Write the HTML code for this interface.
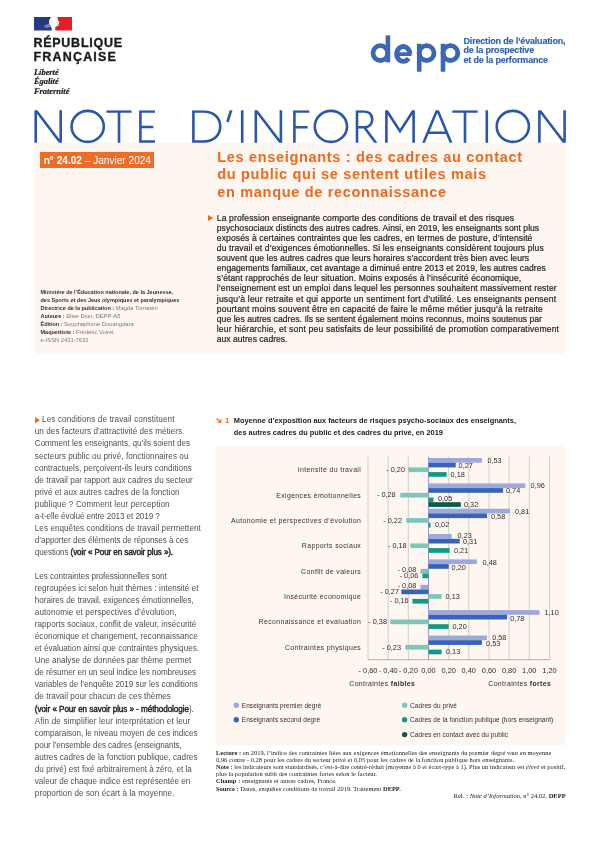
<!DOCTYPE html>
<html lang="fr">
<head>
<meta charset="utf-8">
<title>Note d'Information n° 24.02</title>
<style>
*{margin:0;padding:0;box-sizing:border-box}
html,body{width:600px;height:848px;background:#fff;overflow:hidden}
body{position:relative;font-family:"Liberation Sans",sans-serif;color:#222}
#page{position:absolute;left:0;top:0;width:600px;height:848px;will-change:transform}
.abs{position:absolute;white-space:nowrap}
/* Marianne block */
.flag{left:34px;top:17.1px;width:38px;height:13.6px}
.rf{left:33.4px;font-weight:bold;font-size:12.5px;line-height:13px;color:#1a1a1a;-webkit-text-stroke:.35px #1a1a1a}
.dev{left:34px;top:67.8px;font-family:"Liberation Serif",serif;font-style:italic;font-weight:bold;font-size:8.4px;line-height:9.4px;color:#1a1a1a;-webkit-text-stroke:.2px #1a1a1a}
/* depp */
.depp{left:370.5px;top:29.5px;font-weight:bold;font-size:34px;line-height:39px;color:#3d6bb8;letter-spacing:2.2px}
.dir{left:463.5px;top:37px;font-weight:bold;font-size:9px;line-height:9.3px;color:#2f5fb3;-webkit-text-stroke:.15px #2f5fb3;letter-spacing:-0.18px}
/* header box */
.hbox{left:34px;top:142.5px;width:532px;height:211.5px;background:#fef6f1;border-radius:0 0 6px 6px}
.num{left:40px;top:152px;width:114px;height:15.5px;background:#ea6e2a;color:#fff;font-size:10.1px;line-height:18.1px;padding-left:3.7px;overflow:hidden}
.num b{font-weight:bold}
.dot{width:1.1px;height:1.3px;background:#8a93b8;z-index:2}
.hl{left:217.3px;top:148.7px;font-weight:bold;font-size:14.5px;line-height:17.65px;color:#ec6a1e;letter-spacing:.68px}
.abst{left:216.8px;top:212.6px;font-size:8.6px;line-height:10.13px;color:#262626;-webkit-text-stroke:.2px #262626}
.jl{white-space:nowrap;text-align:justify;text-align-last:justify;overflow:visible}
.tri{color:#ec6a1e}
.cred{left:40.5px;top:288px;font-size:5.8px;line-height:8px;color:#7a7a7a}
.cred b{color:#333;font-size:5.5px}
/* left column */
.col{left:34.8px;top:414.4px;font-size:8.15px;line-height:12.05px;color:#505050}
.col b{font-weight:normal;font-size:8.15px;color:#222;-webkit-text-stroke:.4px #222}
/* chart */
.ctitle{left:233.8px;top:414.8px;font-weight:bold;font-size:7.4px;line-height:12.05px;color:#1c1c1c}
.cbox{left:216px;top:445px;width:350px;height:299.7px;background:#fef6f1}
.notes{left:216px;top:748.5px;font-family:"Liberation Serif",serif;font-size:6.4px;line-height:7.22px;color:#222}
.ref{right:34.4px;top:792px;font-family:"Liberation Serif",serif;font-size:6.5px;line-height:8px;color:#222}
</style>
</head>
<body>
<div id="page">

<!-- Marianne flag -->
<svg class="abs flag" viewBox="0 0 38 13.6">
  <path d="M0 0 H17.3 C16 1.4 15 3 15 5 C15 6.6 15.6 7.6 16.1 8.6 C16.7 9.6 17.3 10.6 17.6 11.6 L18 13.6 H0 Z" fill="#27397f"/>
  <path d="M23.2 0 H38 V13.6 H22 C21 13 20.9 11 21.6 9.7 L24 8.7 L24.8 7 L25.3 5.2 L24 3 Z" fill="#e81e27"/>
  <path d="M10.4 9.3 L15.6 7.3 M11.6 10.4 L16 9.2" stroke="#fff" stroke-width=".65" fill="none"/>
  <circle cx="23.9" cy="5.4" r=".35" fill="#555"/>
</svg>
<div class="abs rf" style="top:36.8px;letter-spacing:.75px">RÉPUBLIQUE</div>
<div class="abs rf" style="top:50.8px;letter-spacing:1.2px">FRANÇAISE</div>
<div class="abs dev">Liberté<br>Égalité<br>Fraternité</div>

<!-- depp -->
<svg class="abs" style="left:365px;top:30px" width="100" height="46" viewBox="365 30 100 46" fill="none" stroke="#3b67b5">
  <circle cx="380.4" cy="53.1" r="7.4" stroke-width="4.8"/>
  <rect x="385.6" y="35.4" width="4.6" height="27" fill="#3b67b5" stroke="none"/>
  <path d="M408.6 58.4 A6.6 7.4 0 1 1 409.9 53.6" stroke-width="4.8"/>
  <rect x="397" y="52.3" width="14.6" height="3.7" fill="#3b67b5" stroke="none"/>
  <circle cx="426.6" cy="53.1" r="7.4" stroke-width="4.8"/>
  <rect x="416.9" y="43.7" width="4.6" height="28" fill="#3b67b5" stroke="none"/>
  <circle cx="450.4" cy="53.1" r="7.4" stroke-width="4.8"/>
  <rect x="440.7" y="43.7" width="4.6" height="28" fill="#3b67b5" stroke="none"/>
</svg>
<div class="abs dir">Direction de l’évaluation,<br>de la prospective<br>et de la performance</div>

<!-- header box -->
<div class="abs hbox"></div>

<!-- title -->
<svg class="abs" style="left:0;top:100px" width="600" height="50" viewBox="0 100 600 50" fill="none" stroke="#2a57a8" stroke-width="2.6" stroke-linejoin="miter" stroke-miterlimit="10">
  <defs><clipPath id="cap"><rect x="0" y="110.3" width="600" height="32.5"/></clipPath></defs>
  <ellipse cx="87.7" cy="126.4" rx="16.1" ry="15.5"/>
  <ellipse cx="330.9" cy="126.4" rx="16.1" ry="15.5"/>
  <ellipse cx="512.8" cy="126.4" rx="16.1" ry="15.5"/>
  <g clip-path="url(#cap)">
  <!-- N -->
  <path d="M35.7 146 V108 M35.1 109.3 L61.3 143.8 M60.7 146 V108"/>
  <!-- T -->
  <path d="M106.4 111.5 H131.6 M119 111.5 V146"/>
  <!-- E -->
  <path d="M155 111.5 H140.4 V141.6 H155 M140.4 127 H153.3"/>
  <!-- D -->
  <path d="M193.4 111.5 H203 C214 111.5 220.2 118 220.2 126.5 C220.2 135 214 141.6 203 141.6 H193.4 Z"/>
  <!-- ' -->
  <path d="M231.5 109 L227.4 122" />
  <!-- I -->
  <path d="M242.2 108 V146"/>
  <!-- N -->
  <path d="M255.8 146 V108 M255.2 109.3 L281.5 143.8 M280.9 146 V108"/>
  <!-- F -->
  <path d="M309.3 111.5 H294.4 V146 M294.4 127.3 H307.6"/>
  <!-- R -->
  <path d="M357 146 V111.5 H364 C369.5 111.5 372.2 114.8 372.2 119.4 C372.2 124 369.5 127.3 364 127.3 H357 M364.3 127.3 L377 144.4"/>
  <!-- M -->
  <path d="M386.4 146 V108 M385.6 109 L400 131.2 L414.4 109 M413.6 146 V108"/>
  <!-- A -->
  <path d="M422.8 144.6 L437.3 109.6 L451.8 144.6 M427.8 132.7 H446.8"/>
  <!-- T -->
  <path d="M452.3 111.5 H477.7 M465 111.5 V146"/>
  <!-- I -->
  <path d="M486.8 108 V146"/>
  <!-- N -->
  <path d="M539.4 146 V108 M538.8 109.3 L565.2 143.8 M564.6 146 V108"/>
  </g>
</svg>

<div class="abs dot" style="left:40.6px;top:162.6px"></div><div class="abs dot" style="left:151.9px;top:162.6px"></div>
<div class="abs num"><b>n° 24.02</b> – Janvier 2024</div>

<div class="abs hl">Les enseignants : des cadres au contact<br>du public qui se sentent utiles mais<br>en manque de reconnaissance</div>

<!-- abstract -->
<svg class="abs" style="left:208.4px;top:215.4px" width="5.3" height="6" viewBox="0 0 5 6.4" preserveAspectRatio="none"><path d="M0 0 L5 3.2 L0 6.4 Z" fill="#ec6a1e"/></svg>
<div class="abs abst"><div class="jl" style="width:297.4px;letter-spacing:0.100px">La profession enseignante comporte des conditions de travail et des risques</div><div class="jl" style="width:322.4px;letter-spacing:0.017px">psychosociaux distincts des autres cadres. Ainsi, en 2019, les enseignants sont plus</div><div class="jl" style="width:315.7px;letter-spacing:0.083px">exposés à certaines contraintes que les cadres, en termes de posture, d’intensité</div><div class="jl" style="width:327.0px;letter-spacing:0.077px">du travail et d’exigences émotionnelles. Si les enseignants considèrent toujours plus</div><div class="jl" style="width:312.4px;letter-spacing:0.036px">souvent que les autres cadres que leurs horaires s’accordent très bien avec leurs</div><div class="jl" style="width:329.0px;letter-spacing:0.022px">engagements familiaux, cet avantage a diminué entre 2013 et 2019, les autres cadres</div><div class="jl" style="width:304.5px;letter-spacing:0.083px">s’étant rapprochés de leur situation. Moins exposés à l’insécurité économique,</div><div class="jl" style="width:339.9px;letter-spacing:0.078px">l’enseignement est un emploi dans lequel les personnes souhaitent massivement rester</div><div class="jl" style="width:339.5px;letter-spacing:0.171px">jusqu’à leur retraite et qui apporte un sentiment fort d’utilité. Les enseignants pensent</div><div class="jl" style="width:326.2px;letter-spacing:0.150px">pourtant moins souvent être en capacité de faire le même métier jusqu’à la retraite</div><div class="jl" style="width:325.2px;letter-spacing:0.023px">que les autres cadres. Ils se sentent également moins reconnus, moins soutenus par</div><div class="jl" style="width:342.4px;letter-spacing:0.168px">leur hiérarchie, et sont peu satisfaits de leur possibilité de promotion comparativement</div><div style="white-space:nowrap">aux autres cadres.</div></div>

<!-- credits -->
<div class="abs cred"><b>Ministère de l’Éducation nationale, de la Jeunesse,</b><br><b>des Sports et des Jeux olympiques et paralympiques</b><br><b>Directrice de la publication :</b> Magda Tomasini<br><b>Auteure :</b> Elise Dion, DEPP-A5<br><b>Édition :</b> Souphaphone Douangdara<br><b>Maquettiste :</b> Frédéric Voiret<br>e-ISSN 2431-7632</div>

<!-- left column -->
<svg class="abs" style="left:35px;top:417.3px" width="5" height="6.4" viewBox="0 0 5 6.4"><path d="M0 0 L5 3.2 L0 6.4 Z" fill="#ec6a1e"/></svg>
<div class="abs col"><div class="jl" style="width:132.4px;margin-left:7.3px;letter-spacing:0.088px">Les conditions de travail constituent</div><div class="jl" style="width:149.5px;letter-spacing:0.033px">un des facteurs d’attractivité des métiers.</div><div class="jl" style="width:155.2px;letter-spacing:-0.035px">Comment les enseignants, qu’ils soient des</div><div class="jl" style="width:153.7px;letter-spacing:0.036px">secteurs public ou privé, fonctionnaires ou</div><div class="jl" style="width:157.0px;letter-spacing:0.038px">contractuels, perçoivent-ils leurs conditions</div><div class="jl" style="width:157.9px;letter-spacing:0.007px">de travail par rapport aux cadres du secteur</div><div class="jl" style="width:144.7px;letter-spacing:0.005px">privé et aux autres cadres de la fonction</div><div class="jl" style="width:134.9px;letter-spacing:0.103px">publique ? Comment leur perception</div><div class="jl" style="width:124.9px;letter-spacing:-0.105px">a-t-elle évolué entre 2013 et 2019 ?</div><div class="jl" style="width:166.0px;letter-spacing:0.036px">Les enquêtes conditions de travail permettent</div><div class="jl" style="width:153.4px;letter-spacing:-0.069px">d’apporter des éléments de réponses à ces</div><div class="jl" style="width:138.2px;letter-spacing:-0.131px">questions <b>(voir « Pour en savoir plus »).</b></div><div class="jl">&nbsp;</div><div class="jl" style="width:131.9px;letter-spacing:-0.060px">Les contraintes professionnelles sont</div><div class="jl" style="width:163.7px;letter-spacing:0.005px">regroupées ici selon huit thèmes : intensité et</div><div class="jl" style="width:158.9px;letter-spacing:-0.041px">horaires de travail, exigences émotionnelles,</div><div class="jl" style="width:141.7px;letter-spacing:0.081px">autonomie et perspectives d’évolution,</div><div class="jl" style="width:161.6px;letter-spacing:0.028px">rapports sociaux, conflit de valeur, insécurité</div><div class="jl" style="width:163.0px;letter-spacing:0.022px">économique et changement, reconnaissance</div><div class="jl" style="width:164.2px;letter-spacing:-0.004px">et évaluation ainsi que contraintes physiques.</div><div class="jl" style="width:156.4px;letter-spacing:-0.007px">Une analyse de données par thème permet</div><div class="jl" style="width:161.2px;letter-spacing:-0.073px">de résumer en un seul indice les nombreuses</div><div class="jl" style="width:163.0px;letter-spacing:-0.040px">variables de l’enquête 2019 sur les conditions</div><div class="jl" style="width:136.0px;letter-spacing:0.015px">de travail pour chacun de ces thèmes</div><div class="jl" style="width:158.9px;letter-spacing:-0.079px"><b>(voir « Pour en savoir plus » - méthodologie</b>).</div><div class="jl" style="width:155.5px;letter-spacing:0.112px">Afin de simplifier leur interprétation et leur</div><div class="jl" style="width:162.7px;letter-spacing:-0.038px">comparaison, le niveau moyen de ces indices</div><div class="jl" style="width:146.9px;letter-spacing:-0.098px">pour l’ensemble des cadres (enseignants,</div><div class="jl" style="width:162.7px;letter-spacing:0.013px">autres cadres de la fonction publique, cadres</div><div class="jl" style="width:157.0px;letter-spacing:-0.002px">du privé) est fixé arbitrairement à zéro, et la</div><div class="jl" style="width:155.5px;letter-spacing:-0.018px">valeur de chaque indice est représentée en</div><div class="jl" style="width:139.7px;letter-spacing:0.066px">proportion de son écart à la moyenne.</div></div>

<!-- chart title -->
<svg class="abs" style="left:216.3px;top:418px" width="5.4" height="4.8" viewBox="0 0 5.4 4.8"><path d="M0.5 0.5 L4.6 4 M1.6 4.2 H4.8 V1.2" stroke="#ec6a1e" stroke-width="1.1" fill="none"/></svg>
<div class="abs" style="left:224.9px;top:415.1px;font-weight:bold;font-size:7.6px;line-height:11.6px;color:#ec6a1e">1</div>
<div class="abs ctitle">Moyenne d’exposition aux facteurs de risques psycho-sociaux des enseignants,<br>des autres cadres du public et des cadres du privé, en 2019</div>
<div class="abs cbox"></div>
<!--CHARTB-->
<svg class="abs" style="left:216px;top:445px" width="350" height="300" viewBox="216 445 350 300" font-family="Liberation Sans, sans-serif">
<path d="M368.0 456.7 V659.8" stroke="#b0aca9" stroke-width="0.55"/>
<path d="M388.2 456.7 V659.8" stroke="#b0aca9" stroke-width="0.55"/>
<path d="M408.3 456.7 V659.8" stroke="#b0aca9" stroke-width="0.55"/>
<path d="M428.5 456.7 V659.8" stroke="#8c88bd" stroke-width="0.9"/>
<path d="M448.7 456.7 V659.8" stroke="#b0aca9" stroke-width="0.55"/>
<path d="M468.8 456.7 V659.8" stroke="#b0aca9" stroke-width="0.55"/>
<path d="M489.0 456.7 V659.8" stroke="#b0aca9" stroke-width="0.55"/>
<path d="M509.1 456.7 V659.8" stroke="#b0aca9" stroke-width="0.55"/>
<path d="M529.3 456.7 V659.8" stroke="#b0aca9" stroke-width="0.55"/>
<path d="M549.5 456.7 V659.8" stroke="#b0aca9" stroke-width="0.55"/>
<path d="M368.0 659.7 H549.5" stroke="#a9a5a2" stroke-width="0.9"/>
<text x="361.2" y="472.2" text-anchor="end" font-size="6.9" fill="#333" letter-spacing="0.38">Intensité du travail</text>
<rect x="428.5" y="458.0" width="53.4" height="4.7" fill="#9fa8dc"/>
<rect x="428.5" y="462.7" width="27.2" height="4.7" fill="#3863b8"/>
<rect x="408.3" y="467.4" width="20.2" height="4.7" fill="#7fc6ba"/>
<rect x="428.5" y="472.1" width="18.1" height="4.7" fill="#129a82"/>
<text x="361.2" y="497.6" text-anchor="end" font-size="6.9" fill="#333" letter-spacing="0.38">Exigences émotionnelles</text>
<rect x="428.5" y="483.4" width="96.8" height="4.7" fill="#9fa8dc"/>
<rect x="428.5" y="488.1" width="74.6" height="4.7" fill="#3863b8"/>
<rect x="400.3" y="492.8" width="28.2" height="4.7" fill="#7fc6ba"/>
<rect x="428.5" y="497.5" width="5.0" height="4.7" fill="#129a82"/>
<rect x="428.5" y="502.2" width="32.3" height="4.7" fill="#0b5a4d"/>
<text x="361.2" y="522.9" text-anchor="end" font-size="6.9" fill="#333" letter-spacing="0.38">Autonomie et perspectives d’évolution</text>
<rect x="428.5" y="508.7" width="81.6" height="4.7" fill="#9fa8dc"/>
<rect x="428.5" y="513.4" width="58.5" height="4.7" fill="#3863b8"/>
<rect x="406.3" y="518.1" width="22.2" height="4.7" fill="#7fc6ba"/>
<rect x="428.5" y="522.8" width="2.0" height="4.7" fill="#129a82"/>
<text x="361.2" y="548.2" text-anchor="end" font-size="6.9" fill="#333" letter-spacing="0.38">Rapports sociaux</text>
<rect x="428.5" y="534.0" width="23.2" height="4.7" fill="#9fa8dc"/>
<rect x="428.5" y="538.8" width="31.2" height="4.7" fill="#3863b8"/>
<rect x="410.4" y="543.4" width="18.1" height="4.7" fill="#7fc6ba"/>
<rect x="428.5" y="548.1" width="21.2" height="4.7" fill="#129a82"/>
<text x="361.2" y="573.6" text-anchor="end" font-size="6.9" fill="#333" letter-spacing="0.38">Conflit de valeurs</text>
<rect x="428.5" y="559.4" width="48.4" height="4.7" fill="#9fa8dc"/>
<rect x="428.5" y="564.1" width="20.2" height="4.7" fill="#3863b8"/>
<rect x="420.4" y="568.8" width="8.1" height="4.7" fill="#7fc6ba"/>
<rect x="422.5" y="573.5" width="6.0" height="4.7" fill="#129a82"/>
<text x="361.2" y="598.9" text-anchor="end" font-size="6.9" fill="#333" letter-spacing="0.38">Insécurité économique</text>
<rect x="420.4" y="584.8" width="8.1" height="4.7" fill="#9fa8dc"/>
<rect x="401.3" y="589.5" width="27.2" height="4.7" fill="#3863b8"/>
<rect x="428.5" y="594.1" width="13.1" height="4.7" fill="#7fc6ba"/>
<rect x="412.4" y="598.9" width="16.1" height="4.7" fill="#129a82"/>
<text x="361.2" y="624.3" text-anchor="end" font-size="6.9" fill="#333" letter-spacing="0.38">Reconnaissance et évaluation</text>
<rect x="428.5" y="610.1" width="110.9" height="4.7" fill="#9fa8dc"/>
<rect x="428.5" y="614.8" width="78.6" height="4.7" fill="#3863b8"/>
<rect x="390.2" y="619.5" width="38.3" height="4.7" fill="#7fc6ba"/>
<rect x="428.5" y="624.2" width="20.2" height="4.7" fill="#129a82"/>
<text x="361.2" y="649.6" text-anchor="end" font-size="6.9" fill="#333" letter-spacing="0.38">Contraintes physiques</text>
<rect x="428.5" y="635.5" width="58.5" height="4.7" fill="#9fa8dc"/>
<rect x="428.5" y="640.2" width="53.4" height="4.7" fill="#3863b8"/>
<rect x="405.3" y="644.9" width="23.2" height="4.7" fill="#7fc6ba"/>
<rect x="428.5" y="649.6" width="13.1" height="4.7" fill="#129a82"/>
<text x="487.4" y="463.0" font-size="7.3" fill="#2e2e2e">0,53</text>
<text x="458.6" y="468.0" font-size="7.3" fill="#2e2e2e">0,27</text>
<text x="405.0" y="472.0" text-anchor="end" font-size="7.3" fill="#2e2e2e">-&#160;0,20</text>
<text x="450.6" y="477.0" font-size="7.3" fill="#2e2e2e">0,18</text>
<text x="530.6" y="487.6" font-size="7.3" fill="#2e2e2e">0,96</text>
<text x="506.0" y="493.4" font-size="7.3" fill="#2e2e2e">0,74</text>
<text x="395.7" y="497.3" text-anchor="end" font-size="7.3" fill="#2e2e2e">-&#160;0,28</text>
<text x="438.0" y="500.6" font-size="7.3" fill="#2e2e2e">0,05</text>
<text x="464.0" y="506.6" font-size="7.3" fill="#2e2e2e">0,32</text>
<text x="515.0" y="514.0" font-size="7.3" fill="#2e2e2e">0,81</text>
<text x="491.0" y="519.0" font-size="7.3" fill="#2e2e2e">0,58</text>
<text x="402.0" y="522.7" text-anchor="end" font-size="7.3" fill="#2e2e2e">-&#160;0,22</text>
<text x="435.0" y="527.0" font-size="7.3" fill="#2e2e2e">0,02</text>
<text x="457.6" y="537.6" font-size="7.3" fill="#2e2e2e">0,23</text>
<text x="463.0" y="544.0" font-size="7.3" fill="#2e2e2e">0,31</text>
<text x="406.6" y="548.0" text-anchor="end" font-size="7.3" fill="#2e2e2e">-&#160;0,18</text>
<text x="454.0" y="552.6" font-size="7.3" fill="#2e2e2e">0,21</text>
<text x="482.6" y="564.6" font-size="7.3" fill="#2e2e2e">0,48</text>
<text x="451.6" y="569.6" font-size="7.3" fill="#2e2e2e">0,20</text>
<text x="416.3" y="572.3" text-anchor="end" font-size="7.3" fill="#2e2e2e">-&#160;0,08</text>
<text x="418.3" y="578.0" text-anchor="end" font-size="7.3" fill="#2e2e2e">-&#160;0,06</text>
<text x="416.3" y="588.0" text-anchor="end" font-size="7.3" fill="#2e2e2e">-&#160;0,08</text>
<text x="399.0" y="594.3" text-anchor="end" font-size="7.3" fill="#2e2e2e">-&#160;0,27</text>
<text x="445.6" y="598.6" font-size="7.3" fill="#2e2e2e">0,13</text>
<text x="408.7" y="603.3" text-anchor="end" font-size="7.3" fill="#2e2e2e">-&#160;0,16</text>
<text x="544.5" y="614.7" font-size="7.3" fill="#2e2e2e">1,10</text>
<text x="510.2" y="620.5" font-size="7.3" fill="#2e2e2e">0,78</text>
<text x="387.0" y="624.3" text-anchor="end" font-size="7.3" fill="#2e2e2e">-&#160;0,38</text>
<text x="452.5" y="628.7" font-size="7.3" fill="#2e2e2e">0,20</text>
<text x="492.2" y="639.9" font-size="7.3" fill="#2e2e2e">0,58</text>
<text x="486.1" y="646.2" font-size="7.3" fill="#2e2e2e">0,53</text>
<text x="401.0" y="650.0" text-anchor="end" font-size="7.3" fill="#2e2e2e">-&#160;0,23</text>
<text x="446.0" y="654.3" font-size="7.3" fill="#2e2e2e">0,13</text>
<text x="368.0" y="673.3" text-anchor="middle" font-size="7.4" fill="#2e2e2e">-&#160;0,60</text>
<text x="388.2" y="673.3" text-anchor="middle" font-size="7.4" fill="#2e2e2e">-&#160;0,40</text>
<text x="408.3" y="673.3" text-anchor="middle" font-size="7.4" fill="#2e2e2e">-&#160;0,20</text>
<text x="428.5" y="673.3" text-anchor="middle" font-size="7.4" fill="#2e2e2e">0,00</text>
<text x="448.7" y="673.3" text-anchor="middle" font-size="7.4" fill="#2e2e2e">0,20</text>
<text x="468.8" y="673.3" text-anchor="middle" font-size="7.4" fill="#2e2e2e">0,40</text>
<text x="489.0" y="673.3" text-anchor="middle" font-size="7.4" fill="#2e2e2e">0,60</text>
<text x="509.1" y="673.3" text-anchor="middle" font-size="7.4" fill="#2e2e2e">0,80</text>
<text x="529.3" y="673.3" text-anchor="middle" font-size="7.4" fill="#2e2e2e">1,00</text>
<text x="549.5" y="673.3" text-anchor="middle" font-size="7.4" fill="#2e2e2e">1,20</text>
<text x="349.3" y="685.5" font-size="6.9" fill="#2e2e2e" letter-spacing="0.36">Contraintes <tspan font-weight="bold">faibles</tspan></text>
<text x="488.3" y="685.5" font-size="6.9" fill="#2e2e2e" letter-spacing="0.36">Contraintes <tspan font-weight="bold">fortes</tspan></text>
<circle cx="236.3" cy="705.1999999999999" r="2.7" fill="#9fa8dc"/>
<text x="241.8" y="707.8" font-size="6.45" letter-spacing="0.09" fill="#2e2e2e">Enseignants premier degré</text>
<circle cx="236.3" cy="719.6999999999999" r="2.7" fill="#3863b8"/>
<text x="241.8" y="722.3" font-size="6.45" letter-spacing="0.09" fill="#2e2e2e">Enseignants second degré</text>
<circle cx="404.6" cy="705.1999999999999" r="2.7" fill="#7fc6ba"/>
<text x="410.1" y="707.8" font-size="6.45" letter-spacing="0.09" fill="#2e2e2e">Cadres du privé</text>
<circle cx="404.6" cy="719.6999999999999" r="2.7" fill="#129a82"/>
<text x="410.1" y="722.3" font-size="6.45" letter-spacing="0.09" fill="#2e2e2e">Cadres de la fonction publique (hors enseignant)</text>
<circle cx="404.6" cy="734.5999999999999" r="2.7" fill="#0b5a4d"/>
<text x="410.1" y="737.2" font-size="6.45" letter-spacing="0.09" fill="#2e2e2e">Cadres en contact avec du public</text>
</svg>
<!--CHARTE-->

<!-- notes -->
<div class="abs notes"><div class="jl" style="width:335.3px;letter-spacing:0.041px"><b>Lecture :</b> en 2019, l’indice des contraintes liées aux exigences émotionnelles des enseignants du premier degré vaut en moyenne</div><div class="jl" style="width:298.2px;letter-spacing:0.042px">0,96 contre - 0,28 pour les cadres du secteur privé et 0,05 pour les cadres de la fonction publique hors enseignants.</div><div class="jl" style="width:349.3px;letter-spacing:0.020px"><b>Note :</b> les indicateurs sont standardisés, c’est-à-dire centré-réduit (moyenne à 0 et écart-type à 1). Plus un indicateur est <i>élevé</i> et positif,</div><div class="jl" style="width:161.0px;letter-spacing:0.046px">plus la population subit des contraintes fortes selon le facteur.</div><div class="jl" style="width:120.7px;letter-spacing:0.039px"><b>Champ :</b> enseignants et autres cadres, France.</div><div class="jl" style="width:184.8px;letter-spacing:0.023px"><b>Source :</b> Dares, enquêtes conditions de travail 2019. Traitement <b>DEPP.</b></div></div>
<div class="abs ref">Réf. : <i>Note d’Information</i>, n° 24.02. <b>DEPP</b></div>

</div>
</body>
</html>
